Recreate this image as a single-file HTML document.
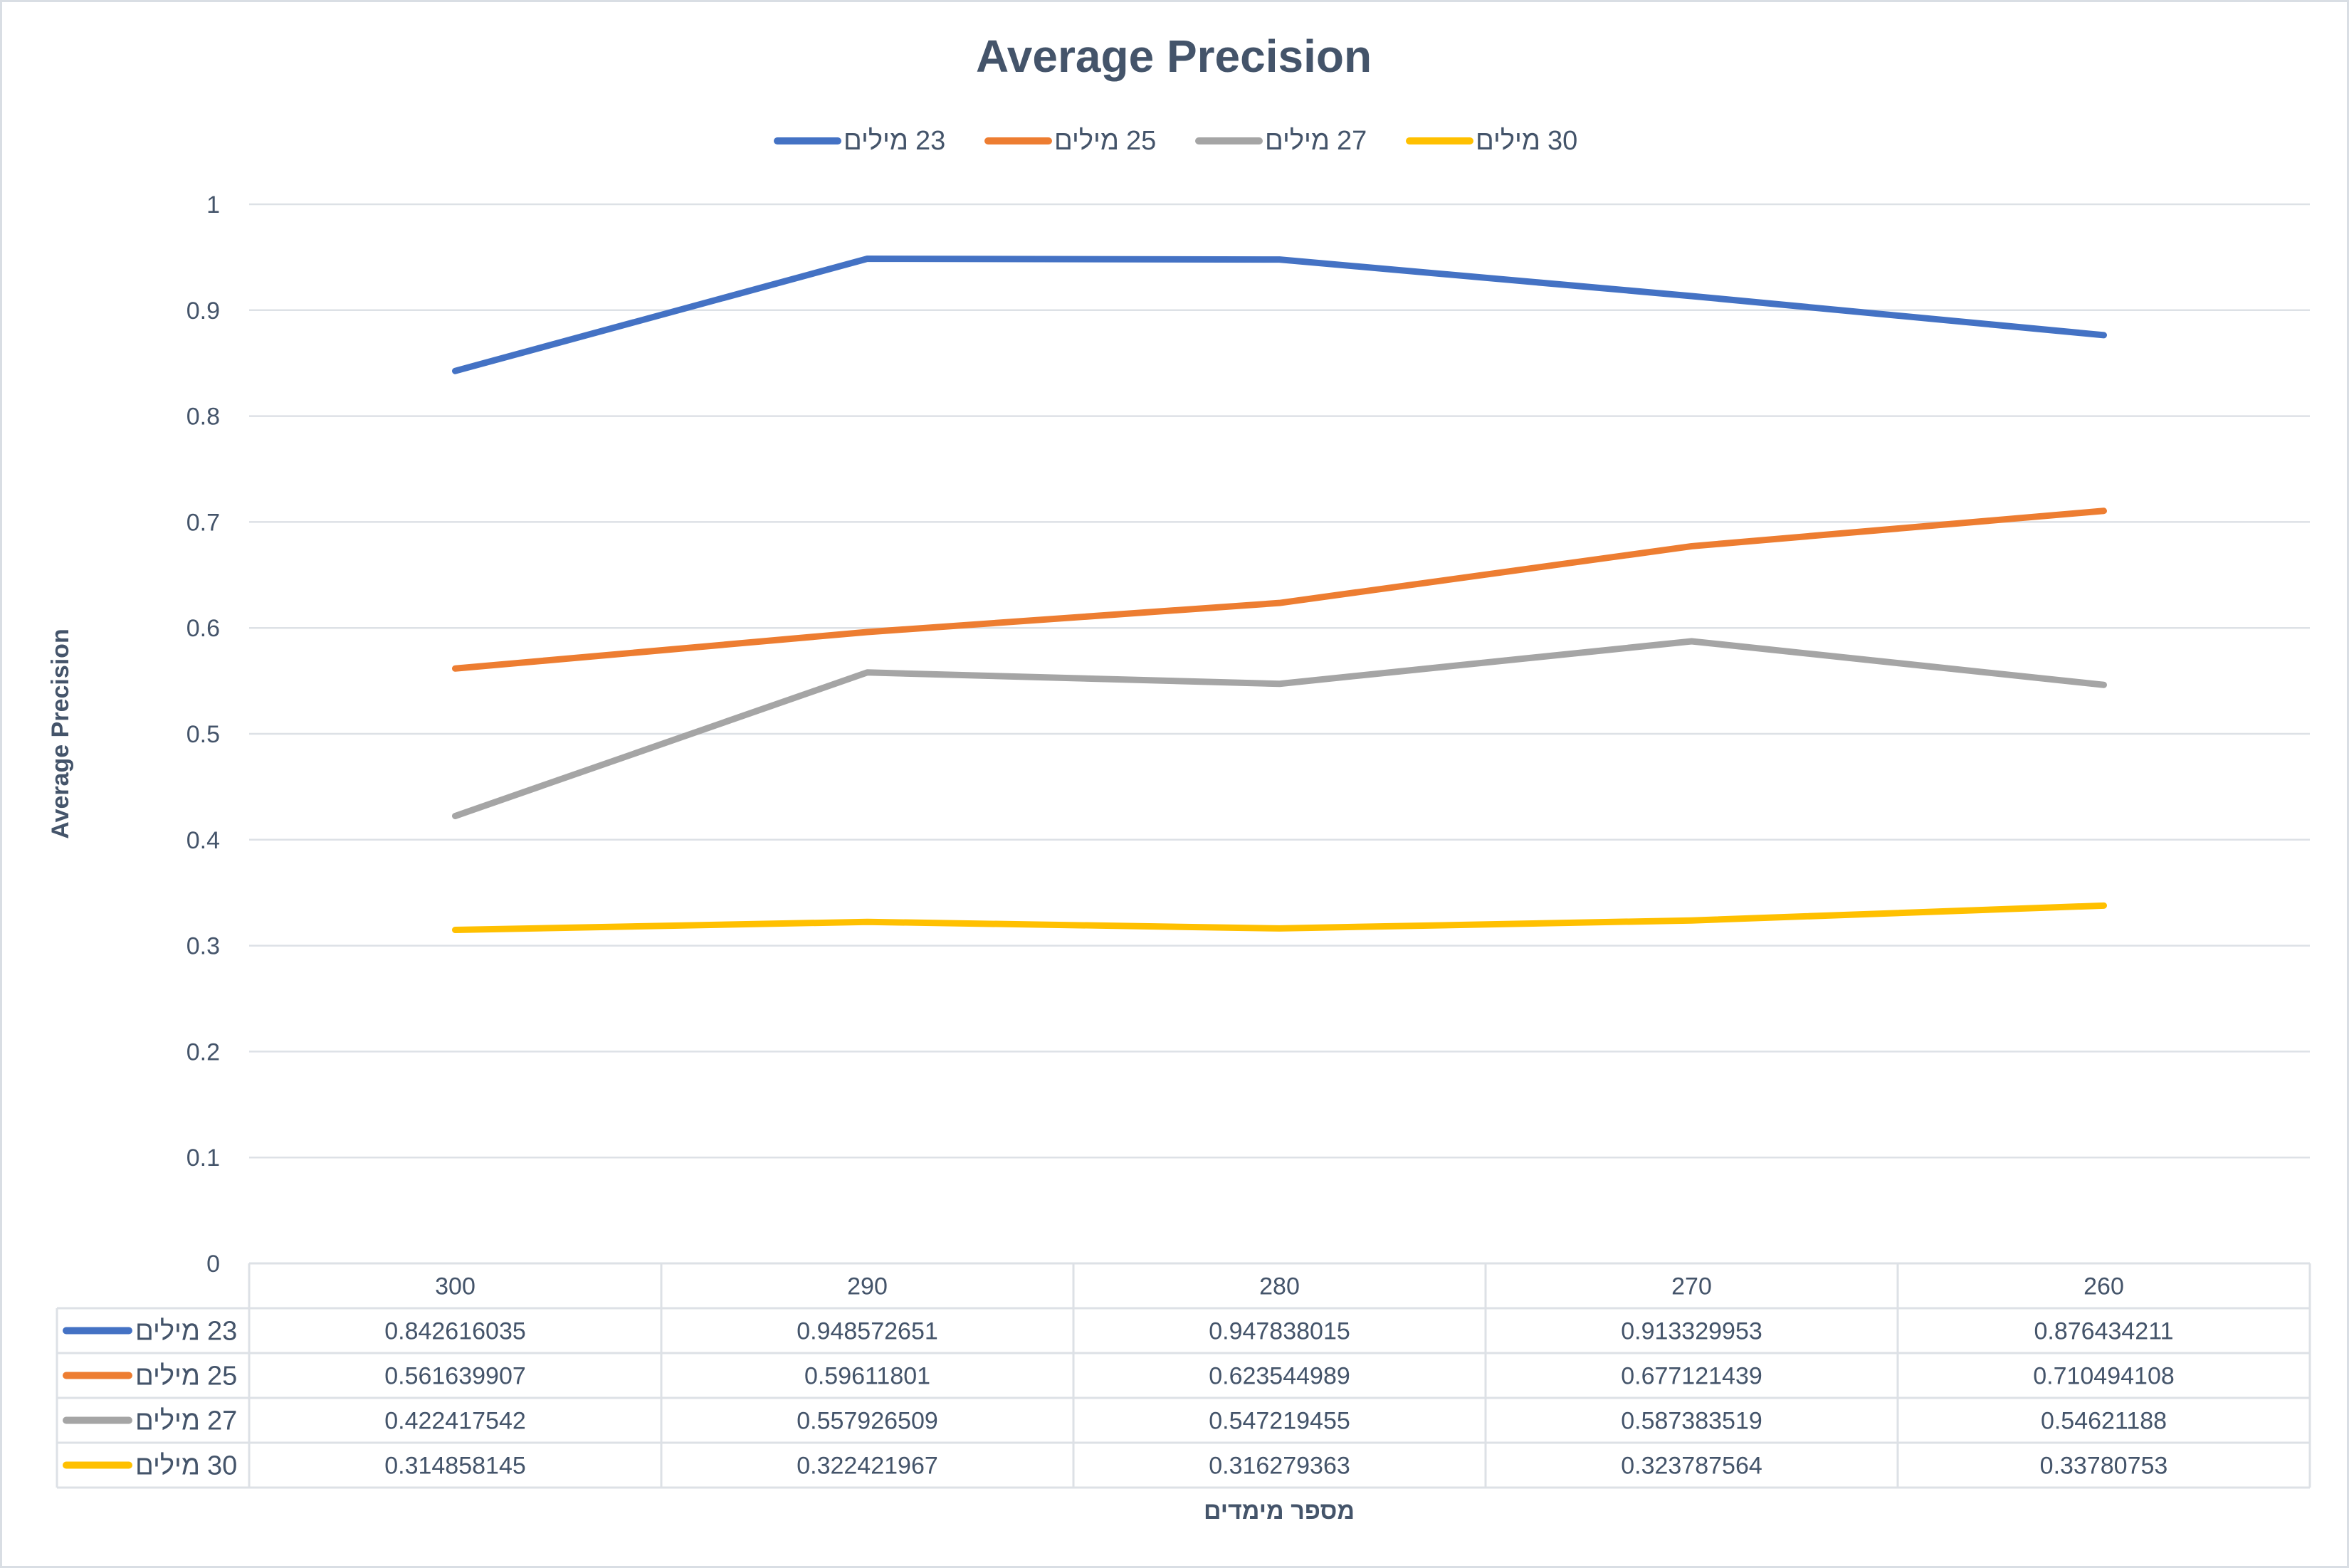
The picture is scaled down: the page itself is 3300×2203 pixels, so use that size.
<!DOCTYPE html>
<html><head><meta charset="utf-8">
<style>
html,body{margin:0;padding:0;background:#fff;}
svg{display:block;}
text{font-family:"Liberation Sans","DejaVu Sans",sans-serif;fill:#44546A;}
</style></head>
<body>
<svg id="chart" width="3300" height="2203" viewBox="0 0 3300 2203" xmlns="http://www.w3.org/2000/svg">
<rect x="1.5" y="1.5" width="3297" height="2200" fill="#fff" stroke="#D9DEE4" stroke-width="3"/>
<text x="1649" y="101" font-size="64" font-weight="bold" text-anchor="middle">Average Precision</text>
<g id="legend"></g>
<g id="grid"></g>
<g id="yticks"></g>
<g id="series"></g>
<g id="table"></g>
<text transform="translate(96,1031) rotate(-90)" font-size="34" font-weight="bold" text-anchor="middle">Average Precision</text>
<text x="1797" y="2134" font-size="34" font-weight="bold" text-anchor="middle">מספר מימדים</text>
</svg>
<script>
const categories = ["300","290","280","270","260"];
const seriesNums = ["23","25","27","30"];
const seriesWord = "מילים";
const s23 = [0.842616035,0.948572651,0.947838015,0.913329953,0.876434211];
const s25 = [0.561639907,0.59611801,0.623544989,0.677121439,0.710494108];
const s27 = [0.422417542,0.557926509,0.547219455,0.587383519,0.54621188];
const s30 = [0.314858145,0.322421967,0.316279363,0.323787564,0.33780753];
const yTicks = [0,0.1,0.2,0.3,0.4,0.5,0.6,0.7,0.8,0.9,1];
const yTickLabels = ["0","0.1","0.2","0.3","0.4","0.5","0.6","0.7","0.8","0.9","1"];

const NS="http://www.w3.org/2000/svg";
const colors=["#4472C4","#ED7D31","#A5A5A5","#FFC000"];
const allSeries=[s23,s25,s27,s30];
const L=350,R=3245,Y0=1775,Y1=287;
const colW=(R-L)/categories.length;
function xPos(i){return L+colW*(i+0.5);}
function yPos(v){return Y0-(Y0-Y1)*v;}
function mk(tag,attrs,parent){const e=document.createElementNS(NS,tag);for(const k in attrs)e.setAttribute(k,attrs[k]);parent.appendChild(e);return e;}
function label(parent,x,y,si,name){
  const w=mk('text',{x:x,y:y,'font-size':38},parent);
  w.textContent=seriesWord;
  
  
  const ww=w.getComputedTextLength();
  const n=mk('text',{x:x+ww+10,y:y,'font-size':38},parent);
  n.textContent=seriesNums[si];
  
  
}

const grid=document.getElementById('grid');
const yt=document.getElementById('yticks');
yTicks.forEach((v,i)=>{
  if(v>0){
    const g=mk('line',{x1:L,x2:R,y1:yPos(v),y2:yPos(v),stroke:'#DDE1E6','stroke-width':2.5},grid);
    
    
  }
  const t=mk('text',{x:309,y:yPos(v)+12,'font-size':34,'text-anchor':'end'},yt);
  t.textContent=yTickLabels[i];
  
  
});

const ser=document.getElementById('series');
allSeries.forEach((arr,si)=>{
  const pts=arr.map((v,i)=>xPos(i)+','+yPos(v)).join(' ');
  const p=mk('polyline',{points:pts,fill:'none',stroke:colors[si],'stroke-width':9,'stroke-linejoin':'round','stroke-linecap':'round'},ser);
  
  
});

const leg=document.getElementById('legend');
seriesNums.forEach((n,si)=>{
  const x0=1087+296*si;
  const l=mk('line',{x1:x0+5,x2:x0+90,y1:198,y2:198,stroke:colors[si],'stroke-width':10,'stroke-linecap':'round'},leg);
  
  
  label(leg,x0+98,210,si,'legend-entry');
});

const tb=document.getElementById('table');
const rowH=63, tableL=80;
const st={stroke:'#DDE1E6','stroke-width':3};
mk('line',Object.assign({x1:L,x2:R,y1:Y0,y2:Y0},st),tb);
for(let r=1;r<=5;r++){const y=Y0+rowH*r;mk('line',Object.assign({x1:tableL,x2:R,y1:y,y2:y},st),tb);}
mk('line',Object.assign({x1:tableL,x2:tableL,y1:Y0+rowH,y2:Y0+rowH*5},st),tb);
for(let c=0;c<=categories.length;c++){const x=L+colW*c;mk('line',Object.assign({x1:x,x2:x,y1:Y0,y2:Y0+rowH*5},st),tb);}
categories.forEach((c,i)=>{
  const t=mk('text',{x:xPos(i),y:Y0+rowH/2+12,'font-size':34,'text-anchor':'middle'},tb);
  t.textContent=c;
  
  
});
allSeries.forEach((arr,si)=>{
  const cy=Y0+rowH*(si+1)+rowH/2;
  const l=mk('line',{x1:93,x2:181,y1:cy,y2:cy,stroke:colors[si],'stroke-width':10,'stroke-linecap':'round'},tb);
  
  
  label(tb,190,cy+13,si,'table-row-label');
  arr.forEach((v,i)=>{
    const c=mk('text',{x:xPos(i),y:cy+12,'font-size':34,'text-anchor':'middle'},tb);
    c.textContent=String(v);
    
    
  });
});
</script>
</body></html>
